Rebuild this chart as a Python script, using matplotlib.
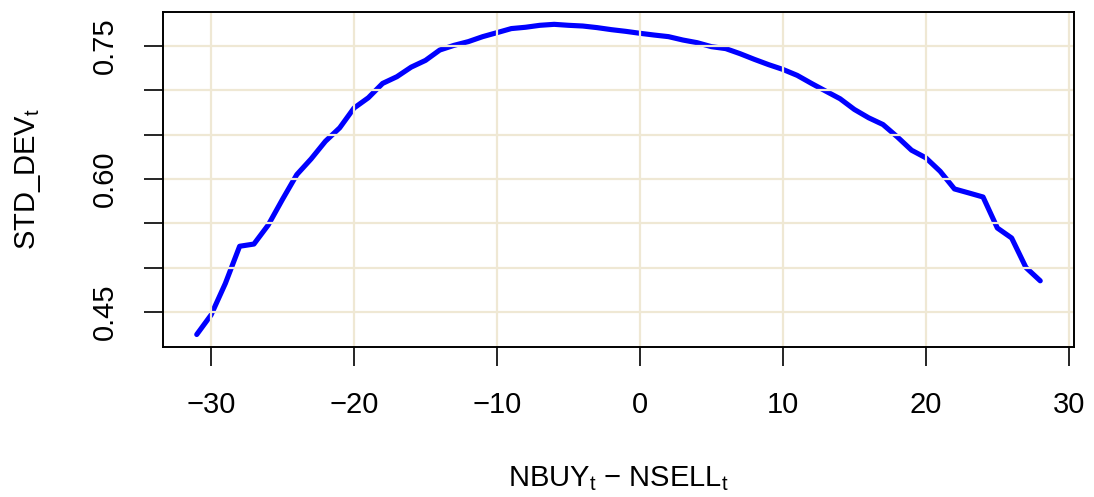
import numpy as np
import matplotlib
matplotlib.use("Agg")
import matplotlib.pyplot as plt
from matplotlib.ticker import FixedLocator, FixedFormatter

plt.rcParams['font.family'] = ['Liberation Sans', 'DejaVu Sans']
plt.rcParams['mathtext.fontset'] = 'custom'
plt.rcParams['mathtext.rm'] = 'Liberation Sans'

# order imbalance vs dispersion of the expectation
imbalance = np.arange(-31, 29)
std_dev = [
    0.4244, 0.4464, 0.4820, 0.5240, 0.5265, 0.5480, 0.5770, 0.6049, 0.6226, 0.6425,
    0.6577, 0.6800, 0.6916, 0.7078, 0.7154, 0.7262, 0.7338, 0.7455, 0.7508, 0.7550,
    0.7606, 0.7651, 0.7697, 0.7712, 0.7734, 0.7745, 0.7734, 0.7726, 0.7708, 0.7685,
    0.7666, 0.7644, 0.7624, 0.7606, 0.7568, 0.7538, 0.7493, 0.7471, 0.7414, 0.7350,
    0.7290, 0.7236, 0.7169, 0.7078, 0.6991, 0.6905, 0.6784, 0.6690, 0.6614, 0.6475,
    0.6324, 0.6238, 0.6086, 0.5887, 0.5842, 0.5796, 0.5446, 0.5333, 0.5000, 0.4850,
]

x_ticks = [-30, -20, -10, 0, 10, 20, 30]
y_ticks = [0.45, 0.50, 0.55, 0.60, 0.65, 0.70, 0.75]
y_tick_labels = ['0.45', '', '', '0.60', '', '', '0.75']

fig = plt.figure(figsize=(10.94, 4.97), dpi=100)
ax = fig.add_axes([0.149, 0.302, 0.8327, 0.674])

ax.plot(imbalance, std_dev, color='#0000FF', lw=3.7, solid_capstyle='round', zorder=2)

# R style padding: 4% either side of the data range
xr = imbalance.max() - imbalance.min()
yr = max(std_dev) - min(std_dev)
ax.set_xlim(imbalance.min() - 0.04 * xr, imbalance.max() + 0.04 * xr)
ax.set_ylim(min(std_dev) - 0.04 * yr, max(std_dev) + 0.04 * yr)

# grid goes on top of the curve
for xv in x_ticks:
    ax.axvline(xv, color='#EFE8D4', lw=1.6, zorder=3)
for yv in y_ticks:
    ax.axhline(yv, color='#EFE8D4', lw=1.6, zorder=3)

ax.xaxis.set_major_locator(FixedLocator(x_ticks))
ax.yaxis.set_major_locator(FixedLocator(y_ticks))
ax.yaxis.set_major_formatter(FixedFormatter(y_tick_labels))
ax.tick_params(axis='both', direction='out', length=14, width=1.2, labelsize=21, pad=18)
for lab in ax.get_yticklabels():
    lab.set_rotation(90)
    lab.set_va('center')

for sp in ax.spines.values():
    sp.set_linewidth(1.4)
    sp.set_zorder(4)

ax.set_xlabel('NBUY$_\\mathregular{t}$ − NSELL$_\\mathregular{t}$', fontsize=21, labelpad=32)
ax.set_ylabel('STD_DEV$_\\mathregular{t}$', fontsize=21, labelpad=34)

fig.savefig('out.png', dpi=100)
